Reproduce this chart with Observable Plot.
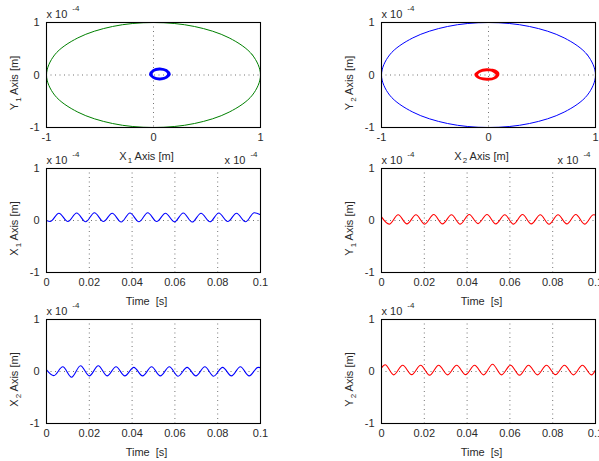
<!DOCTYPE html>
<html><head><meta charset="utf-8">
<script src="https://cdn.jsdelivr.net/npm/d3@7"></script>
<script src="https://cdn.jsdelivr.net/npm/@observablehq/plot@0.6"></script>
<style>
body{margin:0;background:#fff}
#chart{position:relative;width:599px;height:461px;overflow:hidden;background:#fff}
#chart svg{position:absolute;overflow:visible;background:none}
</style>
</head><body><div id="chart"></div>
<script>
// ---- data (units of 1e-4 m / s) ----
const circleX = [1, 0.924, 0.707, 0.383, 0, -0.383, -0.707, -0.924, -1, -0.924, -0.707, -0.383, 0, 0.383, 0.707, 0.924];
const circleY = [0, 0.383, 0.707, 0.924, 1, 0.924, 0.707, 0.383, 0, -0.383, -0.707, -0.924, -1, -0.924, -0.707, -0.383];

const loop1X = [0.145, 0.12, 0.06, 0.0, -0.025, 0.0, 0.06, 0.12, 0.14, 0.115, 0.055, -0.005, -0.03, 0.005, 0.065, 0.125, 0.15, 0.125, 0.06, 0.0, -0.02, -0.005, 0.055, 0.115, 0.145];
const loop1Y = [0.02, 0.087, 0.115, 0.087, 0.02, -0.047, -0.075, -0.047, 0.025, 0.09, 0.11, 0.08, 0.015, -0.05, -0.07, -0.04, 0.015, 0.08, 0.12, 0.09, 0.025, -0.045, -0.078, -0.05, 0.02];

const loop2X = [0.085, 0.055, -0.015, -0.085, -0.115, -0.085, -0.015, 0.055, 0.09, 0.06, -0.02, -0.09, -0.12, -0.08, -0.01, 0.06, 0.08, 0.05, -0.01, -0.08, -0.11, -0.09, -0.02, 0.05, 0.085];
const loop2Y = [0.01, 0.075, 0.1, 0.07, 0.0, -0.055, -0.08, -0.06, 0.02, 0.08, 0.095, 0.06, 0.01, -0.06, -0.085, -0.055, 0.0, 0.07, 0.105, 0.075, 0.005, -0.05, -0.075, -0.065, 0.01];

const x1T = [0, 0.0017, 0.0058, 0.0100, 0.0141, 0.0183, 0.0224, 0.0266, 0.0307, 0.0349, 0.0390, 0.0432, 0.0473, 0.0515, 0.0556, 0.0598, 0.0639, 0.0681, 0.0722, 0.0764, 0.0805, 0.0847, 0.0888, 0.0930, 0.0971, 0.1];
const x1V = [0.0, -0.02, 0.14, -0.02, 0.145, -0.025, 0.15, -0.02, 0.14, -0.03, 0.145, -0.025, 0.15, -0.02, 0.14, -0.025, 0.145, -0.03, 0.14, -0.025, 0.145, -0.02, 0.14, -0.025, 0.15, 0.11];

const y1T = [0, 0.0036, 0.0078, 0.0119, 0.0161, 0.0202, 0.0244, 0.0285, 0.0327, 0.0368, 0.0410, 0.0451, 0.0493, 0.0534, 0.0576, 0.0617, 0.0659, 0.0700, 0.0742, 0.0783, 0.0825, 0.0866, 0.0908, 0.0949, 0.0991, 0.1];
const y1V = [0.07, -0.07, 0.11, -0.065, 0.11, -0.07, 0.115, -0.065, 0.11, -0.07, 0.115, -0.06, 0.115, -0.065, 0.11, -0.07, 0.115, -0.065, 0.11, -0.07, 0.11, -0.065, 0.115, -0.07, 0.11, 0.105];

const x2T = [0, 0.0034, 0.0076, 0.0117, 0.0159, 0.0200, 0.0242, 0.0283, 0.0325, 0.0366, 0.0408, 0.0449, 0.0491, 0.0532, 0.0574, 0.0615, 0.0657, 0.0698, 0.0740, 0.0781, 0.0823, 0.0864, 0.0906, 0.0947, 0.0989, 0.1];
const x2V = [0.03, -0.08, 0.09, -0.11, 0.11, -0.085, 0.11, -0.085, 0.09, -0.085, 0.08, -0.085, 0.09, -0.085, 0.09, -0.09, 0.08, -0.085, 0.09, -0.09, 0.08, -0.085, 0.09, -0.085, 0.08, 0.075];

const y2T = [0, 0.0017, 0.0057, 0.0099, 0.0141, 0.0183, 0.0225, 0.0267, 0.0309, 0.0351, 0.0393, 0.0435, 0.0477, 0.0519, 0.0561, 0.0603, 0.0645, 0.0687, 0.0729, 0.0771, 0.0813, 0.0855, 0.0897, 0.0939, 0.0981, 0.1];
const y2V = [0.07, 0.13, -0.065, 0.12, -0.06, 0.12, -0.07, 0.12, -0.065, 0.12, -0.06, 0.12, -0.065, 0.14, -0.065, 0.12, -0.07, 0.12, -0.065, 0.12, -0.06, 0.12, -0.065, 0.12, -0.065, 0.03];

const posTicks = [-1, 0, 1];
const timeTicks = [0, 0.02, 0.04, 0.06, 0.08, 0.1];
const timeGrid = [0.02, 0.04, 0.06, 0.08];
const zeroGrid = [0];
const expLabel = "x 10^-4";

const zipXY = (xs, ys) => xs.map((x, i) => ({x, y: ys[i]}));

const panels = [
  {fx: 46, fy: 22, h: 105, xDomain: [-1, 1], xTicks: posTicks, xGrid: zeroGrid,
   yLabel: "Y_1 Axis [m]", xLabel: "X_1 Axis [m]", xExp: -3,
   lines: [{d: zipXY(circleX, circleY), c: "#008000", w: 1, curve: "catmull-rom-closed"},
           {d: zipXY(loop1X, loop1Y), c: "#0000ff", w: 2.6, curve: "catmull-rom"}]},
  {fx: 381, fy: 22, h: 105, xDomain: [-1, 1], xTicks: posTicks, xGrid: zeroGrid,
   yLabel: "Y_2 Axis [m]", xLabel: "X_2 Axis [m]", xExp: -5,
   lines: [{d: zipXY(circleX, circleY), c: "#0000ff", w: 1, curve: "catmull-rom-closed"},
           {d: zipXY(loop2X, loop2Y), c: "#ff0000", w: 2.6, curve: "catmull-rom"}]},
  {fx: 46, fy: 168, h: 104, xDomain: [0, 0.1], xTicks: timeTicks, xGrid: timeGrid,
   yLabel: "X_1 Axis [m]", xLabel: "Time  [s]",
   lines: [{d: zipXY(x1T, x1V), c: "#0000ff", w: 1.1, curve: "monotone-x"}]},
  {fx: 381, fy: 168, h: 104, xDomain: [0, 0.1], xTicks: timeTicks, xGrid: timeGrid,
   yLabel: "Y_1 Axis [m]", xLabel: "Time  [s]",
   lines: [{d: zipXY(y1T, y1V), c: "#ff0000", w: 1.1, curve: "monotone-x"}]},
  {fx: 46, fy: 319, h: 104, xDomain: [0, 0.1], xTicks: timeTicks, xGrid: timeGrid,
   yLabel: "X_2 Axis [m]", xLabel: "Time  [s]",
   lines: [{d: zipXY(x2T, x2V), c: "#0000ff", w: 1.1, curve: "monotone-x"}]},
  {fx: 381, fy: 319, h: 104, xDomain: [0, 0.1], xTicks: timeTicks, xGrid: timeGrid,
   yLabel: "Y_2 Axis [m]", xLabel: "Time  [s]",
   lines: [{d: zipXY(y2T, y2V), c: "#ff0000", w: 1.1, curve: "monotone-x"}]}
];

function richify(svg) {
  d3.select(svg).selectAll("text").each(function () {
    if (this.querySelector("tspan")) return;
    const s = this.textContent;
    const m = s.match(/^(.*?)([_^])(\S+)(.*)$/);
    if (!m) return;
    const el = d3.select(this);
    el.text(null);
    el.append("tspan").text(m[1]);
    const sub = m[2] === "_";
    const shift = sub ? 3 : -7;
    el.append("tspan").attr("dy", shift).attr("dx", sub ? 1 : 5).attr("font-size", 8).text(m[3]);
    if (m[4]) el.append("tspan").attr("dy", -shift).text(m[4]);
  });
}

const ML = 46, MR = 8, MT = 22, MB = 40, W = 214;
const root = document.getElementById("chart");
for (const p of panels) {
  const marks = [
    Plot.gridX(p.xGrid, {stroke: "#000", strokeOpacity: 0.55, strokeDasharray: "1,3.5"}),
    Plot.gridY(zeroGrid, {stroke: "#000", strokeOpacity: 0.55, strokeDasharray: "1,3.5"}),
    ...p.lines.map(l => Plot.line(l.d, {x: "x", y: "y", stroke: l.c, strokeWidth: l.w, curve: l.curve})),
    Plot.axisX(p.xTicks, {tickSize: 0, tickPadding: 6, tickFormat: d => String(d), label: null}),
    Plot.axisY(posTicks, {tickSize: 0, tickPadding: 7, tickFormat: d => String(d), label: null}),
    Plot.frame({stroke: "#000", strokeWidth: 1.1}),
    Plot.text([expLabel], {frameAnchor: "top-left", text: d => d, textAnchor: "start", lineAnchor: "middle", dy: -8}),
    Plot.text([p.xLabel], {frameAnchor: "bottom", text: d => d, textAnchor: "middle", lineAnchor: "middle", dy: 29, dx: -7}),
    Plot.text([p.yLabel], {frameAnchor: "left", text: d => d, textAnchor: "middle", lineAnchor: "middle", rotate: -90, dx: -32, dy: 8})
  ];
  if (p.xExp !== undefined) {
    marks.push(Plot.text([expLabel], {frameAnchor: "bottom-right", text: d => d, textAnchor: "end", lineAnchor: "middle", dy: 33, dx: p.xExp}));
  }
  const svg = Plot.plot({
    width: ML + W + MR,
    height: MT + p.h + MB,
    marginLeft: ML, marginRight: MR, marginTop: MT, marginBottom: MB,
    x: {domain: p.xDomain},
    y: {domain: [-1, 1]},
    style: {fontFamily: "'Liberation Sans', Arial, sans-serif", fontSize: "11px", color: "#2a2a2a", background: "none", overflow: "visible"},
    marks
  });
  richify(svg);
  svg.style.left = (p.fx - ML) + "px";
  svg.style.top = (p.fy - MT) + "px";
  root.appendChild(svg);
}
</script>
</body></html>
